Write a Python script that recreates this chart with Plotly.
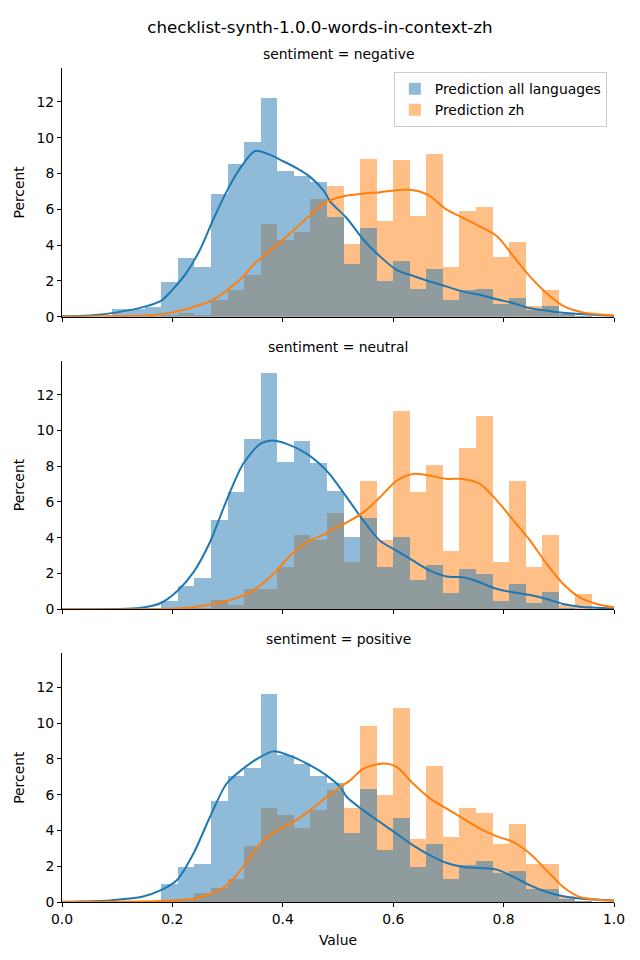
import plotly.graph_objects as go
from plotly.subplots import make_subplots

# ---------------- data ----------------
title_text = "checklist-synth-1.0.0-words-in-context-zh"
panel_titles = ["sentiment = negative", "sentiment = neutral", "sentiment = positive"]
series_names = ["Prediction all languages", "Prediction zh"]

bin_starts = [0.00, 0.03, 0.06, 0.09, 0.12, 0.15, 0.18, 0.21, 0.24, 0.27, 0.30,
              0.33, 0.36, 0.39, 0.42, 0.45, 0.48, 0.51, 0.54, 0.57, 0.60, 0.63,
              0.66, 0.69, 0.72, 0.75, 0.78, 0.81, 0.84, 0.87, 0.90, 0.93, 0.96]
bin_width = 0.03

neg_all = [0, 0, 0, 0.45, 0.45, 0.55, 1.96, 3.29, 2.79, 6.83, 8.56, 9.74, 12.21, 8.12, 7.84, 7.5,
           5.55, 2.96, 4.97, 2.02, 3.12, 1.55, 2.67, 0.95, 1.5, 1.55, 0.73, 1.05, 0.4, 0.6, 0.15, 0.05, 0]
neg_zh = [0, 0, 0, 0, 0, 0.05, 0.1, 0.22, 0.1, 0.93, 1.5, 2.34, 5.2, 4.3, 4.75, 6.6,
          7.33, 4.08, 8.84, 5.37, 8.75, 5.61, 9.07, 2.79, 5.93, 6.15, 3.35, 4.19, 0.6, 1.5, 0.13, 0.05, 0]

neu_all = [0, 0, 0, 0, 0, 0.1, 0.49, 1.32, 1.77, 5.01, 6.58, 9.54, 13.23, 8.26, 9.43, 8.2,
           6.63, 4.06, 5.12, 2.39, 4.06, 1.66, 2.5, 0.93, 2.27, 2.0, 0.49, 1.44, 0.37, 0.99, 0.1, 0, 0]
neu_zh = [0, 0, 0, 0, 0, 0, 0.05, 0.1, 0.1, 0.54, 0.26, 1.16, 1.16, 2.39, 4.17, 3.9,
          5.4, 2.67, 7.19, 3.9, 11.1, 6.58, 8.09, 3.28, 9.04, 10.83, 2.67, 7.19, 2.39, 4.17, 0.26, 0.88, 0]

pos_all = [0.05, 0.05, 0.05, 0.05, 0.05, 0.05, 0.99, 1.94, 2.1, 5.63, 7.03, 7.47, 11.61, 8.2, 7.7, 7.03,
           6.63, 3.84, 6.3, 2.89, 4.68, 1.94, 3.22, 1.27, 2.05, 2.28, 1.58, 1.72, 0.71, 0.71, 0.15, 0.05, 0]
pos_zh = [0.05, 0.05, 0.05, 0.05, 0.05, 0.05, 0.05, 0.1, 0.5, 0.77, 1.27, 3.11, 5.24, 4.85, 4.12, 5.12,
          6.24, 5.24, 9.82, 5.96, 10.83, 3.5, 7.59, 3.62, 5.24, 4.96, 3.22, 4.34, 2.1, 2.1, 0.32, 0.05, 0]

# KDE curves
neg_all_kde_x = [0, 0.05, 0.10, 0.15, 0.18, 0.20, 0.225, 0.25, 0.275, 0.30, 0.325, 0.35, 0.375, 0.40,
                 0.425, 0.45, 0.475, 0.4855, 0.516, 0.546, 0.576, 0.606, 0.630, 0.667, 0.697, 0.727,
                 0.757, 0.788, 0.818, 0.848, 0.878, 0.908, 0.938, 1.0]
neg_all_kde_y = [0.02, 0.07, 0.24, 0.56, 0.9, 1.5, 2.43, 3.74, 5.5, 7.1, 8.4, 9.26, 9.07, 8.7,
                 8.3, 7.8, 7.0, 6.45, 5.5, 4.3, 3.37, 2.62, 2.34, 1.96, 1.68, 1.4,
                 1.22, 0.97, 0.75, 0.47, 0.34, 0.22, 0.15, 0.04]
neg_zh_kde_x = [0, 0.10, 0.15, 0.20, 0.25, 0.275, 0.30, 0.325, 0.35, 0.375, 0.40, 0.425, 0.45, 0.475,
                0.4855, 0.516, 0.546, 0.576, 0.606, 0.630, 0.648, 0.667, 0.697, 0.727, 0.757, 0.788,
                0.818, 0.848, 0.878, 0.908, 0.938, 0.969, 1.0]
neg_zh_kde_y = [0.0, 0.04, 0.06, 0.24, 0.65, 0.97, 1.5, 2.15, 3.0, 3.65, 4.3, 4.97, 5.7, 6.35,
                6.5, 6.77, 6.88, 6.96, 7.07, 7.1, 7.0, 6.73, 5.98, 5.52, 5.05, 4.49,
                3.37, 2.24, 1.31, 0.6, 0.28, 0.13, 0.08]

neu_all_kde_x = [0, 0.117, 0.147, 0.178, 0.208, 0.238, 0.268, 0.298, 0.328, 0.359, 0.377, 0.407, 0.443,
                 0.473, 0.4855, 0.516, 0.546, 0.576, 0.606, 0.636, 0.667, 0.697, 0.727, 0.745, 0.788,
                 0.818, 0.848, 0.878, 0.908, 0.938, 1.0]
neu_all_kde_y = [0.0, 0.03, 0.1, 0.34, 1.0, 2.07, 3.75, 6.08, 8.12, 9.25, 9.43, 9.25, 8.7,
                 7.95, 7.53, 6.26, 4.96, 3.84, 3.28, 2.72, 2.16, 1.83, 1.79, 1.64, 1.14,
                 0.95, 0.8, 0.58, 0.3, 0.15, 0.06]
neu_zh_kde_x = [0, 0.178, 0.238, 0.268, 0.298, 0.328, 0.359, 0.389, 0.419, 0.449, 0.479, 0.4855, 0.516,
                0.546, 0.576, 0.606, 0.636, 0.667, 0.697, 0.727, 0.757, 0.788, 0.818, 0.848, 0.878,
                0.908, 0.938, 0.969, 1.0]
neu_zh_kde_y = [0.0, 0.02, 0.12, 0.27, 0.47, 0.76, 1.33, 2.17, 3.18, 3.84, 4.25, 4.4, 4.86,
                5.42, 6.26, 7.19, 7.57, 7.47, 7.29, 7.29, 7.01, 6.08, 4.96, 3.84, 2.54,
                1.42, 0.67, 0.3, 0.11]

pos_all_kde_x = [0, 0.087, 0.117, 0.147, 0.178, 0.208, 0.238, 0.268, 0.298, 0.328, 0.359, 0.383, 0.419,
                 0.449, 0.479, 0.504, 0.516, 0.546, 0.576, 0.606, 0.636, 0.667, 0.697, 0.727, 0.757,
                 0.788, 0.818, 0.848, 0.878, 0.908, 0.938, 1.0]
pos_all_kde_y = [0.01, 0.09, 0.18, 0.31, 0.65, 1.22, 2.7, 4.75, 6.61, 7.45, 8.1, 8.42, 8.1,
                 7.65, 7.08, 6.43, 5.87, 5.12, 4.47, 3.82, 3.17, 2.61, 2.18, 1.96, 1.9,
                 1.81, 1.4, 0.93, 0.56, 0.32, 0.19, 0.08]
pos_zh_kde_x = [0, 0.178, 0.238, 0.268, 0.298, 0.328, 0.359, 0.389, 0.419, 0.449, 0.479, 0.504, 0.522,
                0.546, 0.582, 0.606, 0.636, 0.667, 0.697, 0.727, 0.757, 0.788, 0.818, 0.848, 0.878,
                0.908, 0.938, 0.969, 1.0]
pos_zh_kde_y = [0.0, 0.05, 0.18, 0.43, 0.93, 1.96, 3.26, 4.0, 4.47, 5.12, 5.87, 6.43, 6.8,
                7.46, 7.74, 7.55, 6.62, 5.78, 5.22, 4.66, 4.1, 3.67, 3.35, 2.7, 1.77,
                0.84, 0.28, 0.13, 0.08]

x_ticks = [0.0, 0.2, 0.4, 0.6, 0.8, 1.0]
y_ticks = [0, 2, 4, 6, 8, 10, 12]

# ---------------- figure ----------------
BLUE = "#1f77b4"
ORANGE = "#ff7f0e"
BLUE_FILL = "rgba(31,119,180,0.5)"
ORANGE_FILL = "rgba(255,127,14,0.5)"
FONT = "DejaVu Sans"
FS = 13.9

panels = [
    (neg_all, neg_zh, neg_all_kde_x, neg_all_kde_y, neg_zh_kde_x, neg_zh_kde_y),
    (neu_all, neu_zh, neu_all_kde_x, neu_all_kde_y, neu_zh_kde_x, neu_zh_kde_y),
    (pos_all, pos_zh, pos_all_kde_x, pos_all_kde_y, pos_zh_kde_x, pos_zh_kde_y),
]

fig = make_subplots(rows=3, cols=1, shared_xaxes=True, vertical_spacing=44 / 834)

for i, (h_all, h_zh, ka_x, ka_y, kz_x, kz_y) in enumerate(panels):
    row = i + 1
    first = (i == 0)
    fig.add_trace(go.Bar(x=bin_starts, y=h_zh, width=bin_width, offset=0,
                         marker=dict(color=ORANGE_FILL, line=dict(width=0)),
                         name=series_names[1], legendrank=2, showlegend=first,
                         legendgroup="zh"), row=row, col=1)
    fig.add_trace(go.Bar(x=bin_starts, y=h_all, width=bin_width, offset=0,
                         marker=dict(color=BLUE_FILL, line=dict(width=0)),
                         name=series_names[0], legendrank=1, showlegend=first,
                         legendgroup="all"), row=row, col=1)
    fig.add_trace(go.Scatter(x=ka_x, y=ka_y, mode="lines",
                             line=dict(color=BLUE, width=2, shape="spline", smoothing=0.8),
                             showlegend=False, legendgroup="all"), row=row, col=1)
    fig.add_trace(go.Scatter(x=kz_x, y=kz_y, mode="lines",
                             line=dict(color=ORANGE, width=2, shape="spline", smoothing=0.8),
                             showlegend=False, legendgroup="zh"), row=row, col=1)

axis_common = dict(showline=True, linecolor="black", linewidth=1, showgrid=False, zeroline=False,
                   ticks="outside", ticklen=4, tickwidth=1, tickcolor="black",
                   tickfont=dict(family=FONT, size=FS, color="black"))

for r in range(1, 4):
    fig.update_xaxes(range=[0, 1], tickvals=x_ticks, tickformat=".1f",
                     showticklabels=(r == 3), row=r, col=1, **axis_common)
    fig.update_yaxes(range=[0, 13.9], tickvals=y_ticks,
                     title=dict(text="Percent", font=dict(family=FONT, size=FS, color="black"), standoff=8),
                     row=r, col=1, **axis_common)
fig.update_xaxes(title=dict(text="Value", font=dict(family=FONT, size=FS, color="black"), standoff=9),
                 row=3, col=1)

# panel titles
for i, t in enumerate(panel_titles):
    yref = "y domain" if i == 0 else f"y{i + 1} domain"
    fig.add_annotation(text=t, xref="paper", x=0.5, yref=yref, y=1, yanchor="bottom",
                       yshift=4, showarrow=False,
                       font=dict(family=FONT, size=FS, color="black"))

fig.update_layout(
    width=640, height=960,
    margin=dict(l=62, r=26, t=68, b=58),
    paper_bgcolor="white", plot_bgcolor="white",
    barmode="overlay", bargap=0,
    font=dict(family=FONT, size=FS, color="black"),
    title=dict(text=title_text, x=0.5, xref="container", xanchor="center",
               y=1 - 27 / 960, yref="container", yanchor="middle",
               font=dict(family=FONT, size=16.7, color="black")),
    legend=dict(x=0.987, xanchor="right", y=0.995, yanchor="top",
                bgcolor="rgba(255,255,255,0.8)", bordercolor="#cccccc", borderwidth=1,
                font=dict(family=FONT, size=FS, color="black"), traceorder="normal"),
)

fig.write_html("out.html", config={"displayModeBar": False},
               post_script="document.body.style.margin='0';")
